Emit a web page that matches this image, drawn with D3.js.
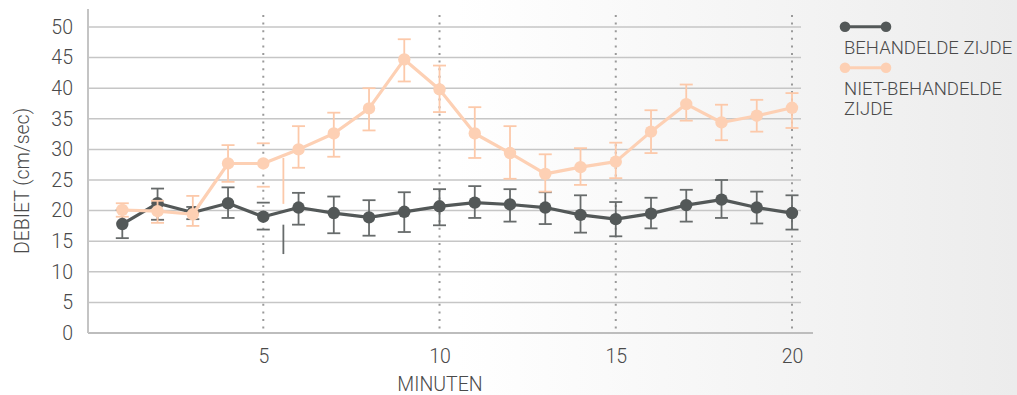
<!DOCTYPE html>
<html><head><meta charset="utf-8">
<script src="https://cdn.jsdelivr.net/npm/d3@7"></script>
<style>
html,body{margin:0;padding:0;background:#fff;}
svg{display:block;}
text{font-family:"Roboto","DejaVu Sans Condensed",sans-serif;font-weight:300;fill:#4a4a4a;}
</style></head><body>
<svg id="chart" width="1017" height="395"></svg>
<script>
const minutes = [1,2,3,4,5,6,7,8,9,10,11,12,13,14,15,16,17,18,19,20];
const treated     = [17.8,21.2,19.7,21.2,19.0,20.5,19.6,18.9,19.8,20.7,21.3,21.0,20.5,19.3,18.6,19.5,20.9,21.8,20.5,19.6];
const treatedLow  = [15.5,18.5,18.6,18.8,16.9,17.7,16.3,15.9,16.5,17.6,18.8,18.2,17.8,16.4,15.8,17.1,18.2,18.8,17.9,16.9];
const treatedHigh = [20.1,23.6,20.6,23.8,21.3,22.9,22.3,21.7,23.0,23.5,24.0,23.5,23.0,22.5,21.4,22.1,23.4,25.0,23.1,22.5];
const untreated     = [20.1,19.9,19.4,27.7,27.7,30.0,32.6,36.7,44.7,39.8,32.6,29.4,26.0,27.1,28.0,32.9,37.4,34.4,35.5,36.8];
const untreatedLow  = [19.0,18.0,17.5,24.7,23.9,27.0,28.8,33.1,41.1,36.1,28.6,25.2,23.1,24.2,25.3,29.4,34.7,31.5,32.9,33.5];
const untreatedHigh = [21.2,21.6,22.4,30.7,31.0,33.8,36.0,40.0,48.0,43.7,36.9,33.8,29.2,30.2,31.1,36.4,40.6,37.3,38.1,39.2];
// minute whose error-bar stem is drawn displaced in the original, and where it lands
const capsOnlyMinutes = [5];
const displacedStemMinute = [5.57, 5.57];
const displacedStemLow  = [12.9, 21.1];
const displacedStemHigh = [17.7, 28.6];
const displacedStemSeries = ["BEHANDELDE ZIJDE", "NIET-BEHANDELDE ZIJDE"];
const yTicks = [0,5,10,15,20,25,30,35,40,45,50];
const xTicks = [5,10,15,20];
const seriesNames = ["BEHANDELDE ZIJDE", "NIET-BEHANDELDE ZIJDE"];
const legendLines = [["BEHANDELDE ZIJDE"], ["NIET-BEHANDELDE", "ZIJDE"]];
const yTitle = "DEBIET (cm/sec)";
const xTitle = "MINUTEN";

const colors = {"BEHANDELDE ZIJDE": {line:"#535858", err:"#676b6b"},
                "NIET-BEHANDELDE ZIJDE": {line:"#fdd0b4", err:"#fcc9aa"}};

const svg = d3.select("#chart");
const W = 1017, H = 395;

// background gradient
const defs = svg.append("defs");
const grad = defs.append("linearGradient").attr("id","bg").attr("x1","0").attr("x2","1").attr("y1","0").attr("y2","0");
grad.append("stop").attr("offset","0.45").attr("stop-color","#ffffff");
grad.append("stop").attr("offset","1").attr("stop-color","#ececec");
svg.append("rect").attr("width",W).attr("height",H).attr("fill","url(#bg)");

const x = d3.scaleLinear().domain([1,20]).range([122.3,792]);
const y = d3.scaleLinear().domain([0,50]).range([333,27]);
const axisLeftX = 88;

// gridlines
svg.append("g").selectAll("line").data(yTicks.filter(d=>d>0)).join("line")
  .attr("x1",axisLeftX).attr("x2",801).attr("y1",d=>y(d)).attr("y2",d=>y(d))
  .attr("stroke","#c6c6c6").attr("stroke-width",1.5);
// baseline
svg.append("line").attr("x1",axisLeftX).attr("x2",813).attr("y1",y(0)).attr("y2",y(0))
  .attr("stroke","#bdbdbd").attr("stroke-width",2);
// y axis line
svg.append("line").attr("x1",axisLeftX).attr("x2",axisLeftX).attr("y1",9).attr("y2",y(0))
  .attr("stroke","#c4c4c4").attr("stroke-width",2);

// dotted verticals
svg.append("g").selectAll("line").data(xTicks).join("line")
  .attr("x1",d=>x(d)).attr("x2",d=>x(d)).attr("y1",15).attr("y2",y(0))
  .attr("stroke","#9a9a9a").attr("stroke-width",2).attr("stroke-dasharray","2,5.6");

// y axis labels via d3 axis
const yAxis = svg.append("g").attr("transform",`translate(${axisLeftX},0)`)
  .call(d3.axisLeft(y).tickValues(yTicks).tickSize(0).tickPadding(15));
yAxis.attr("font-family",null).attr("font-size",null);
yAxis.select(".domain").remove();
yAxis.selectAll("text").attr("font-size",19.5).attr("fill","#4a4a4a");

// x axis labels
const xAxis = svg.append("g").attr("transform",`translate(0,${y(0)})`)
  .call(d3.axisBottom(x).tickValues(xTicks).tickSize(0).tickPadding(16));
xAxis.attr("font-family",null).attr("font-size",null);
xAxis.select(".domain").remove();
xAxis.selectAll("text").attr("font-size",19.5).attr("fill","#4a4a4a");

// titles
svg.append("text").attr("transform",`translate(29,181) rotate(-90)`).attr("text-anchor","middle")
  .attr("font-size",19.5).text(yTitle);
svg.append("text").attr("x",440).attr("y",391).attr("text-anchor","middle")
  .attr("font-size",19.5).text(xTitle);

// series
const series = [
  {name:seriesNames[0], v:treated, lo:treatedLow, hi:treatedHigh},
  {name:seriesNames[1], v:untreated, lo:untreatedLow, hi:untreatedHigh}
];
const capW = 6.5;
series.forEach(s=>{
  const c = colors[s.name];
  const g = svg.append("g");
  const pts = minutes.map((m,i)=>({m, v:s.v[i], lo:s.lo[i], hi:s.hi[i]}));
  const eb = g.append("g").attr("stroke",c.err).attr("stroke-width",1.8);
  eb.selectAll("line.stem").data(pts.filter(p=>!capsOnlyMinutes.includes(p.m))).join("line").attr("class","stem")
    .attr("x1",p=>x(p.m)).attr("x2",p=>x(p.m)).attr("y1",p=>y(p.lo)).attr("y2",p=>y(p.hi));
  eb.selectAll("line.capl").data(pts).join("line").attr("class","capl")
    .attr("x1",p=>x(p.m)-capW).attr("x2",p=>x(p.m)+capW).attr("y1",p=>y(p.lo)).attr("y2",p=>y(p.lo));
  eb.selectAll("line.caph").data(pts).join("line").attr("class","caph")
    .attr("x1",p=>x(p.m)-capW).attr("x2",p=>x(p.m)+capW).attr("y1",p=>y(p.hi)).attr("y2",p=>y(p.hi));
  displacedStemMinute.forEach((m,i)=>{
    if(displacedStemSeries[i]!==s.name) return;
    eb.append("line").attr("x1",x(m)).attr("x2",x(m)).attr("y1",y(displacedStemLow[i])).attr("y2",y(displacedStemHigh[i]));
  });
  g.append("path").datum(pts).attr("fill","none").attr("stroke",c.line).attr("stroke-width",3.2)
    .attr("stroke-linejoin","round")
    .attr("d",d3.line().x(p=>x(p.m)).y(p=>y(p.v)));
  g.selectAll("circle").data(pts).join("circle").attr("cx",p=>x(p.m)).attr("cy",p=>y(p.v)).attr("r",6.2)
    .attr("fill",c.line);
});

// legend
const lg = svg.append("g");
const legendY = [26.7, 67.7];
const legendTextY = [54, 95];
seriesNames.forEach((n,i)=>{
  const c = colors[n].line;
  lg.append("line").attr("x1",844).attr("x2",887).attr("y1",legendY[i]).attr("y2",legendY[i]).attr("stroke",c).attr("stroke-width",3);
  lg.append("circle").attr("cx",845).attr("cy",legendY[i]).attr("r",5.3).attr("fill",c);
  lg.append("circle").attr("cx",886).attr("cy",legendY[i]).attr("r",5.3).attr("fill",c);
  const t = lg.append("text").attr("x",844).attr("y",legendTextY[i]).attr("font-size",18.5);
  legendLines[i].forEach((ln,j)=>{
    t.append("tspan").attr("x",844).attr("dy",j===0?0:19.5).text(ln);
  });
});
</script>
</body></html>
